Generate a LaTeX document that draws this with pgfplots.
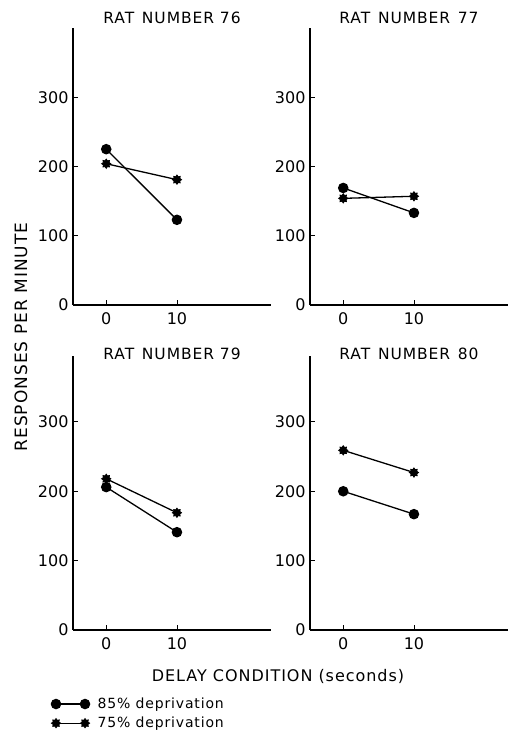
\documentclass[border=0pt]{standalone}
\usepackage{fontspec}
\setmainfont{DejaVu Sans}
\newfontfamily\wide{DejaVu Sans}[LetterSpace=6.0]
\usepackage{pgfplots}
\pgfplotsset{compat=1.18}

% filled eight-pointed star, like the hand-drawn marks
\pgfdeclareplotmark{fstar}{%
  \pgfpathmoveto{\pgfpointpolar{90}{\pgfplotmarksize}}%
  \pgfpathlineto{\pgfpointpolar{112.5}{0.68\pgfplotmarksize}}%
  \pgfpathlineto{\pgfpointpolar{135}{\pgfplotmarksize}}%
  \pgfpathlineto{\pgfpointpolar{157.5}{0.68\pgfplotmarksize}}%
  \pgfpathlineto{\pgfpointpolar{180}{\pgfplotmarksize}}%
  \pgfpathlineto{\pgfpointpolar{202.5}{0.68\pgfplotmarksize}}%
  \pgfpathlineto{\pgfpointpolar{225}{\pgfplotmarksize}}%
  \pgfpathlineto{\pgfpointpolar{247.5}{0.68\pgfplotmarksize}}%
  \pgfpathlineto{\pgfpointpolar{270}{\pgfplotmarksize}}%
  \pgfpathlineto{\pgfpointpolar{292.5}{0.68\pgfplotmarksize}}%
  \pgfpathlineto{\pgfpointpolar{315}{\pgfplotmarksize}}%
  \pgfpathlineto{\pgfpointpolar{337.5}{0.68\pgfplotmarksize}}%
  \pgfpathlineto{\pgfpointpolar{0}{\pgfplotmarksize}}%
  \pgfpathlineto{\pgfpointpolar{22.5}{0.68\pgfplotmarksize}}%
  \pgfpathlineto{\pgfpointpolar{45}{\pgfplotmarksize}}%
  \pgfpathlineto{\pgfpointpolar{67.5}{0.68\pgfplotmarksize}}%
  \pgfpathclose
  \pgfusepathqfillstroke}

\pgfplotsset{
  ratpanel/.style={
    scale only axis,
    width=198pt,
    xmin=-4.7, xmax=23.3,
    ymin=0,
    axis x line=bottom, axis y line=left,
    axis line style={-, line width=1.1pt},
    xtick={0,10}, ytick={0,100,200,300},
    tick align=inside,
    major tick length=5pt,
    tick style={line width=0.9pt, black},
    /pgf/number format/assume math mode=true,
    tick label style={font=\fontsize{16}{18}\selectfont},
    yticklabel style={xshift=-1pt},
    xticklabel style={yshift=-4pt},
    title style={at={(0.5,1)}, anchor=south, yshift=-5pt,
      font=\wide\fontsize{15.5}{17}\selectfont},
    clip=false,
  },
  circ/.style={black, line width=1.3pt, mark=*, mark size=4.6pt},
  starr/.style={black, line width=1.3pt, mark=fstar,
    mark options={fill=black, draw=black, line width=0.8pt}, mark size=4.6pt},
}

\begin{document}
\begin{tikzpicture}
\useasboundingbox (0,0) rectangle (512pt,739pt);

% rat 76
\begin{axis}[ratpanel, at={(73pt,434pt)}, anchor=south west,
    height=277pt, ymax=400, title={RAT\enspace NUMBER 76}]
  \addplot[circ] coordinates {(0,225) (10,123)};
  \addplot[starr] coordinates {(0,204) (10,181)};
\end{axis}

% rat 77
\begin{axis}[ratpanel, at={(310pt,434pt)}, anchor=south west,
    height=277pt, ymax=400, title={RAT\enspace NUMBER\enspace 77}]
  \addplot[circ] coordinates {(0,169) (10,133)};
  \addplot[starr] coordinates {(0,154) (10,157)};
\end{axis}

% rat 79
\begin{axis}[ratpanel, at={(73pt,109pt)}, anchor=south west,
    height=274pt, ymax=395, title={RAT\enspace NUMBER 79},
    title style={yshift=-8pt},
    legend style={at={(-0.11,-0.24)}, anchor=north west, draw=none,
      fill=none, font=\wide\fontsize{14}{16}\selectfont,
      row sep=3pt, inner sep=0pt,
      /tikz/every odd column/.append style={column sep=6pt}},
    legend cell align=left,
    legend image code/.code={
      \draw[#1] plot coordinates {(0pt,0pt) (29pt,0pt)};}]
  \addplot[circ] coordinates {(0,206) (10,141)};
  \addplot[starr] coordinates {(0,218) (10,169)};
  \legend{85\% deprivation, 75\% deprivation}
\end{axis}

% rat 80
\begin{axis}[ratpanel, at={(310pt,109pt)}, anchor=south west,
    height=274pt, ymax=395, title={RAT\enspace NUMBER\enspace 80},
    title style={yshift=-8pt}]
  \addplot[circ] coordinates {(0,200) (10,167)};
  \addplot[starr] coordinates {(0,259) (10,227)};
\end{axis}

\node[rotate=90, font=\wide\fontsize{17}{19}\selectfont] at (21pt,402pt)
  {RESPONSES PER MINUTE};
\node[font=\wide\fontsize{16}{18}\selectfont] at (278pt,63pt)
  {DELAY CONDITION (seconds)};
\end{tikzpicture}
\end{document}
